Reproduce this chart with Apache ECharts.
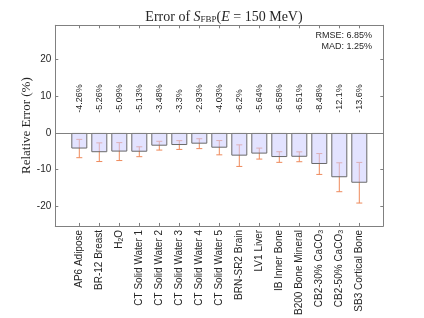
<!DOCTYPE html>
<html><head><meta charset="utf-8">
<script src="https://cdn.jsdelivr.net/npm/echarts@6/dist/echarts.min.js"></script>
<style>html,body{margin:0;padding:0;background:#fff}#c{width:424px;height:318px}</style>
</head><body><div id="c"></div>
<script>
const categories = ['AP6 Adipose','BR-12 Breast','H{sub|2}O','CT Solid Water 1','CT Solid Water 2','CT Solid Water 3','CT Solid Water 4','CT Solid Water 5','BRN-SR2 Brain','LV1 Liver','IB Inner Bone','B200 Bone Mineral','CB2-30% CaCO{sub|3}','CB2-50% CaCO{sub|3}','SB3 Cortical Bone'];
const values = [-4.26,-5.26,-5.09,-5.13,-3.48,-3.3,-2.93,-4.03,-6.2,-5.64,-6.58,-6.51,-8.48,-12.1,-13.6];
const errors = [2.5,2.55,2.45,1.35,1.2,1.2,1.35,1.95,2.95,1.5,1.45,1.35,2.85,3.95,5.55];
const valueLabels = ['-4.26%','-5.26%','-5.09%','-5.13%','-3.48%','-3.3%','-2.93%','-4.03%','-6.2%','-5.64%','-6.58%','-6.51%','-8.48%','-12.1%','-13.6%'];
const yTicks = [-20,-10,0,10,20];
const stats = ['RMSE: 6.85%','MAD: 1.25%'];
const labelLevel = 5.5;

const xPos = categories.map((c,i)=>i+1);
const axisColor = '#808080';
const textColor = '#262626';
const sans = '"Liberation Sans", Arial, sans-serif';
const serif = '"Liberation Serif", "DejaVu Serif", serif';

const chart = echarts.init(document.getElementById('c'), null, {renderer:'canvas'});
const xBase = {
  type:'value', min:-0.2, max:16.2,
  axisLine:{show:true, onZero:false, lineStyle:{color:axisColor, width:1}},
  axisTick:{show:true, inside:true, length:3, customValues:xPos, lineStyle:{color:axisColor}},
  splitLine:{show:false}
};
const yBase = {
  type:'value', min:-25.4, max:29.4,
  axisLine:{show:true, onZero:false, lineStyle:{color:axisColor, width:1}},
  axisTick:{show:true, inside:true, length:3, customValues:yTicks, lineStyle:{color:axisColor}},
  splitLine:{show:false}
};
chart.setOption({
  animation:false,
  title:{
    text:'Error of {i|S}{sub|FBP}({i|E} = 150 MeV)',
    left:219, textAlign:'center', top:5,
    textStyle:{fontFamily:serif, fontSize:14, fontWeight:'normal', color:textColor,
      rich:{
        i:{fontFamily:serif, fontSize:14, fontStyle:'italic', color:textColor},
        sub:{fontFamily:serif, fontSize:9, color:textColor, verticalAlign:'bottom', lineHeight:9, padding:[8,0,0,0]}
      }}
  },
  grid:{left:55.3, right:40.7, top:25.3, bottom:90.3},
  xAxis:[
    Object.assign({}, xBase, {position:'bottom',
      axisLabel:{show:true, customValues:xPos, rotate:90, margin:4, fontFamily:sans, fontSize:10, color:textColor,
        formatter:(v)=>categories[Math.round(v)-1] || '',
        rich:{sub:{fontFamily:sans, fontSize:7, color:textColor, verticalAlign:'bottom', lineHeight:7, padding:[6,0,0,0]}}}}),
    Object.assign({}, xBase, {position:'top', axisLabel:{show:false}})
  ],
  yAxis:[
    Object.assign({}, yBase, {position:'left',
      name:'Relative Error (%)', nameLocation:'middle', nameGap:22, nameRotate:90, nameMoveOverlap:false,
      nameTextStyle:{fontFamily:serif, fontSize:13, color:textColor},
      axisLabel:{show:true, customValues:yTicks, margin:4, fontFamily:sans, fontSize:10, color:textColor}}),
    Object.assign({}, yBase, {position:'right', axisLabel:{show:false}})
  ],
  graphic:[
    {type:'text', right:52, top:31.5,
     style:{text:stats[0], align:'right', fontFamily:sans, fontSize:9, fill:textColor}},
    {type:'text', right:52, top:41.7,
     style:{text:stats[1], align:'right', fontFamily:sans, fontSize:9, fill:textColor}}
  ],
  series:[
    {
      type:'custom', xAxisIndex:0, yAxisIndex:0, z:2,
      data: values.map((v,i)=>[xPos[i], v, errors[i]]),
      renderItem:(params, api)=>{
        const x = api.value(0), y = api.value(1), e = api.value(2);
        const t = api.coord([x, y+e]), b = api.coord([x, y-e]);
        const cw = 3;
        const st = {stroke:'#ee8a5c', lineWidth:1};
        return {type:'group', children:[
          {type:'line', shape:{x1:t[0], y1:t[1], x2:b[0], y2:b[1]}, style:st},
          {type:'line', shape:{x1:t[0]-cw, y1:t[1], x2:t[0]+cw, y2:t[1]}, style:st},
          {type:'line', shape:{x1:b[0]-cw, y1:b[1], x2:b[0]+cw, y2:b[1]}, style:st}
        ]};
      }
    },
    {
      type:'bar', xAxisIndex:0, yAxisIndex:0, z:3,
      data: values.map((v,i)=>[xPos[i], v]),
      barWidth:16,
      itemStyle:{color:'rgba(204,204,255,0.55)', borderColor:'#6a6a6a', borderWidth:1},
      markLine:{silent:true, symbol:'none', label:{show:false},
        lineStyle:{color:axisColor, width:1, type:'solid'}, data:[{yAxis:0}]}
    },
    {
      type:'custom', xAxisIndex:0, yAxisIndex:0, z:4,
      data: values.map((v,i)=>[xPos[i], labelLevel, i]),
      renderItem:(params, api)=>{
        const p = api.coord([api.value(0), api.value(1)]);
        return {type:'text', x:p[0], y:p[1], rotation:Math.PI/2,
          style:{text:valueLabels[api.value(2)], align:'left', verticalAlign:'middle',
            fontFamily:sans, fontSize:9, fill:textColor}};
      }
    }
  ]
});
</script>
</body></html>
